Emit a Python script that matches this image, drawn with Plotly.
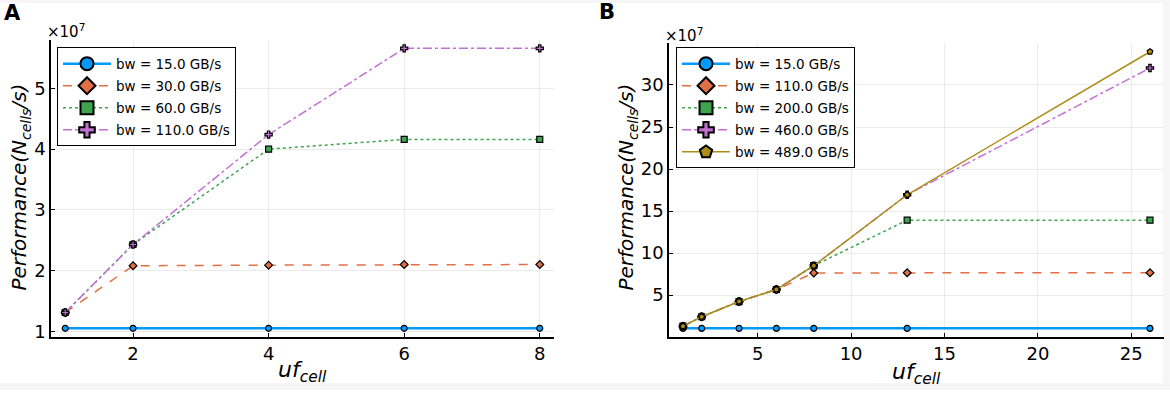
import plotly.graph_objects as go

# Panel A data (x: uf_cell, y: performance in 1e7 cells/s)
uf_a = [1, 2, 4, 6, 8]
a_bw15 = [1.05, 1.05, 1.05, 1.05, 1.05]
a_bw30 = [1.31, 2.08, 2.09, 2.10, 2.10]
a_bw60 = [1.31, 2.43, 4.00, 4.16, 4.16]
a_bw110 = [1.31, 2.43, 4.24, 5.66, 5.66]
a_labels = ["bw = 15.0 GB/s", "bw = 30.0 GB/s", "bw = 60.0 GB/s", "bw = 110.0 GB/s"]

# Panel B data
uf_b = [1, 2, 4, 6, 8, 13, 26]
b_bw15 = [1.05, 1.05, 1.05, 1.05, 1.05, 1.05, 1.05]
b_bw110 = [1.31, 2.43, 4.24, 5.67, 7.64, 7.67, 7.67]
b_bw200 = [1.31, 2.43, 4.24, 5.67, 8.50, 13.92, 13.92]
b_bw460 = [1.31, 2.43, 4.24, 5.67, 8.50, 16.94, 32.02]
b_bw489 = [1.31, 2.43, 4.24, 5.67, 8.50, 16.94, 33.95]
b_labels = ["bw = 15.0 GB/s", "bw = 110.0 GB/s", "bw = 200.0 GB/s", "bw = 460.0 GB/s", "bw = 489.0 GB/s"]

FONT = "DejaVu Sans"
styles = [
    dict(color="#009AFA", symbol="circle", dash="solid", width=2.5),
    dict(color="#E36F47", symbol="diamond", dash="dash", width=1.5),
    dict(color="#3EA44E", symbol="square", dash="dot", width=1.5),
    dict(color="#C271D2", symbol="cross", dash="dashdot", width=1.5),
    dict(color="#AC8E18", symbol="pentagon", dash="solid", width=1.5),
]

fig = go.Figure()

def add_series(x, y, label, st, xa, ya, leg, grp):
    fig.add_trace(go.Scatter(
        x=x, y=y, mode="lines+markers", xaxis=xa, yaxis=ya, showlegend=False,
        line=dict(color=st["color"], dash=st["dash"], width=st["width"]),
        marker=dict(symbol=st["symbol"], size=6, color=st["color"],
                    line=dict(color="black", width=1.2)),
    ))
    fig.add_trace(go.Scatter(
        x=[None], y=[None], mode="lines+markers", xaxis=xa, yaxis=ya, name=label,
        legend=leg, legendgroup=grp, showlegend=True,
        line=dict(color=st["color"], dash=st["dash"], width=st["width"]),
        marker=dict(symbol=st["symbol"], size=13, color=st["color"],
                    line=dict(color="black", width=2)),
    ))

for i, (y, lab, st) in enumerate(zip([a_bw15, a_bw30, a_bw60, a_bw110], a_labels, styles)):
    add_series(uf_a, y, lab, st, "x", "y", "legend", f"a{i}")
for i, (y, lab, st) in enumerate(zip([b_bw15, b_bw110, b_bw200, b_bw460, b_bw489], b_labels, styles)):
    add_series(uf_b, y, lab, st, "x2", "y2", "legend2", f"b{i}")

W, H = 1170, 395
def px(v): return v / W
def py(v): return 1 - v / H

axis_common = dict(
    showline=True, linecolor="black", linewidth=1.5, mirror=False,
    ticks="inside", ticklen=4, tickcolor="black",
    showgrid=True, gridcolor="#ebebeb", gridwidth=1, zeroline=False,
    tickfont=dict(family=FONT, size=18, color="black"),
)

leg_common = dict(xanchor="left", yanchor="top", bordercolor="black", borderwidth=1,
                  bgcolor="white", font=dict(family=FONT, size=13.5),
                  traceorder="grouped", tracegroupgap=1.5, itemwidth=48)

fig.update_layout(
    width=W, height=H, margin=dict(l=0, r=0, t=0, b=0),
    paper_bgcolor="white", plot_bgcolor="white",
    font=dict(family=FONT, color="black"),
    xaxis=dict(domain=[px(51), px(554)], anchor="y", range=[0.79, 8.21],
               tickvals=[2, 4, 6, 8], **axis_common),
    yaxis=dict(domain=[py(341), py(41)], anchor="x", range=[0.912, 5.79],
               tickvals=[1, 2, 3, 4, 5], **axis_common),
    xaxis2=dict(domain=[px(669), px(1164)], anchor="y2", range=[0.25, 26.75],
                tickvals=[5, 10, 15, 20, 25], **axis_common),
    yaxis2=dict(domain=[py(341), py(44)], anchor="x2", range=[0.06, 34.94],
                tickvals=[5, 10, 15, 20, 25, 30], **axis_common),
    legend=dict(x=px(57), y=py(48), **leg_common),
    legend2=dict(x=px(676), y=py(48), **leg_common),
)

# light grey frame strips seen around the reference image
frame = "#f6f6f6"
for x0, y0, x1, y1 in [(0, 0, W, 3), (0, 388, W, H), (1163, 0, W, H)]:
    fig.add_shape(type="rect", xref="paper", yref="paper", layer="below",
                  x0=px(x0), x1=px(x1), y0=py(y1), y1=py(y0),
                  fillcolor=frame, line=dict(width=0))

ann = [
    dict(text="<b>A</b>", x=px(2), y=py(13), xanchor="left", yanchor="middle", font=dict(size=21)),
    dict(text="<b>B</b>", x=px(597), y=py(12), xanchor="left", yanchor="middle", font=dict(size=21)),
    dict(text="×10<sup>7</sup>", x=px(45), y=py(31), xanchor="left", yanchor="middle", font=dict(size=15)),
    dict(text="×10<sup>7</sup>", x=px(663), y=py(35), xanchor="left", yanchor="middle", font=dict(size=15)),
    dict(text="<i>uf<sub>cell</sub></i>", x=px(302), y=py(376), xanchor="center", yanchor="middle", font=dict(size=22)),
    dict(text="<i>uf<sub>cell</sub></i>", x=px(916), y=py(378), xanchor="center", yanchor="middle", font=dict(size=22)),
    dict(text="<i>Performance(N<sub>cells</sub>/s)</i>", x=px(20), y=py(190), textangle=-90,
         xanchor="center", yanchor="middle", font=dict(size=20)),
    dict(text="<i>Performance(N<sub>cells</sub>/s)</i>", x=px(627), y=py(190), textangle=-90,
         xanchor="center", yanchor="middle", font=dict(size=20)),
]
for a in ann:
    a.update(xref="paper", yref="paper", showarrow=False)
    a["font"] = dict(family=FONT, color="black", **a["font"])
fig.update_layout(annotations=ann)

fig.write_html("out.html", config={"displayModeBar": False},
               post_script="document.body.style.margin='0';document.body.style.overflow='hidden';")
